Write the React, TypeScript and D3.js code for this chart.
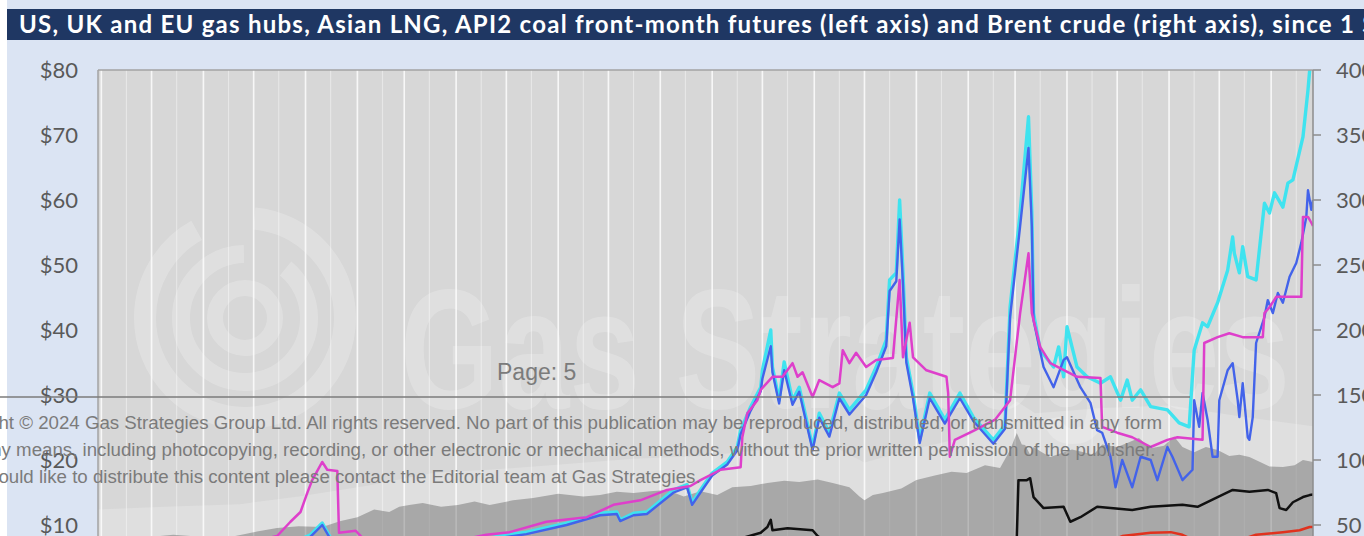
import * as d3 from "d3";

const W = 1364;
const H = 536;
const PLOT = { left: 98, right: 1313, top: 70, zero: 590 };
const START = new Date(2020, 7, 30);
const DAYS = 726;

const TITLE =
  "US, UK and EU gas hubs, Asian LNG, API2 coal front-month futures (left axis) and Brent crude (right axis), since 1 September 2020";
const LEFT_TICKS = [10, 20, 30, 40, 50, 60, 70, 80];
const RIGHT_TICKS = [50, 100, 150, 200, 250, 300, 350, 400];

const COPYRIGHT = [
  "Copyright © 2024 Gas Strategies Group Ltd. All rights reserved. No part of this publication may be reproduced, distributed, or transmitted in any form",
  "or by any means, including photocopying, recording, or other electronic or mechanical methods, without the prior written permission of the publisher.",
  "If you would like to distribute this content please contact the Editorial team at Gas Strategies.",
];

// [days since 30 Aug 2020, $/MMBtu]
const TTF: [number, number][] = [
  [0, 4.3], [19, 4.6], [37, 5.2], [61, 5.6], [85, 5.3], [109, 6.4], [127, 8.5], [134, 10.3], [139, 8.0],
  [148, 6.8], [168, 6.2], [192, 6.4], [216, 7.0], [240, 8.3], [256, 8.9], [280, 10.3], [300, 11.8],
  [310, 12.0], [312, 10.8], [320, 11.8], [328, 12.0], [344, 15.4], [352, 16.2], [355, 13.4], [360, 15.4],
  [367, 18.0], [376, 19.7], [382, 22.0], [384, 24.6], [390, 28.2], [396, 31.2], [397, 33.8], [402, 40.0],
  [403, 34.3], [407, 29.2], [410, 35.1], [415, 29.2], [419, 31.2], [427, 22.0], [431, 27.2], [437, 24.2],
  [443, 30.3], [449, 27.7], [459, 30.8], [465, 34.3], [471, 38.5], [473, 47.7], [477, 48.8], [479, 60.0],
  [481, 48.8], [483, 35.8], [487, 30.3], [491, 23.1], [497, 30.3], [506, 26.2], [515, 30.3], [523, 26.6],
  [535, 23.1], [542, 25.4], [545, 43.5], [551, 58.0], [556, 72.8], [558, 58.0], [559, 42.6], [563, 36.9],
  [571, 34.3], [574, 37.4], [577, 32.8], [579, 40.5], [585, 34.3], [591, 32.8], [599, 31.8], [605, 32.8],
  [611, 29.2], [615, 32.3], [618, 29.2], [623, 30.8], [629, 28.2], [639, 27.7], [646, 25.7], [652, 25.1],
  [655, 36.9], [660, 41.1], [663, 40.5], [669, 44.2], [675, 49.2], [678, 54.3], [679, 51.8], [682, 48.8],
  [684, 52.8], [687, 48.2], [692, 47.7], [697, 59.5], [700, 58.0], [703, 61.1], [708, 58.9], [711, 62.6],
  [714, 63.1], [720, 69.7], [723, 76.9], [726, 86.0],
];

const NBP: [number, number][] = [
  [0, 4.1], [19, 4.4], [37, 5.0], [61, 5.4], [85, 5.1], [109, 6.2], [127, 8.2], [134, 10.0], [139, 7.8],
  [148, 6.6], [168, 6.0], [192, 6.2], [216, 6.8], [240, 8.0], [256, 8.6], [280, 10.0], [300, 11.5],
  [310, 11.7], [312, 10.6], [320, 11.5], [328, 11.7], [344, 15.0], [352, 15.8], [355, 13.1], [360, 15.0],
  [367, 17.6], [376, 19.3], [382, 21.5], [384, 24.0], [390, 27.6], [396, 30.6], [397, 32.5], [402, 37.5],
  [403, 33.5], [407, 28.7], [410, 33.8], [415, 28.5], [419, 30.5], [427, 21.5], [431, 26.5], [437, 23.6],
  [443, 29.5], [449, 27.0], [459, 30.0], [465, 33.5], [471, 37.5], [473, 46.0], [477, 47.5], [479, 57.0],
  [481, 47.0], [483, 35.0], [487, 29.5], [491, 22.6], [497, 29.5], [506, 25.6], [515, 29.5], [523, 26.0],
  [535, 22.5], [542, 24.8], [545, 42.0], [551, 56.0], [556, 68.0], [558, 56.0], [559, 41.5], [565, 34.3],
  [571, 31.2], [577, 35.4], [579, 35.8], [587, 31.2], [593, 28.8], [597, 24.6], [600, 24.2], [605, 20.5],
  [608, 15.8], [612, 20.0], [618, 15.8], [623, 20.5], [629, 20.0], [633, 16.9], [639, 22.0], [642, 20.5],
  [648, 16.9], [654, 18.5], [655, 29.2], [658, 25.1], [660, 30.3], [663, 26.2], [666, 20.5], [669, 20.5],
  [670, 29.2], [675, 33.8], [678, 34.9], [681, 29.2], [682, 26.6], [684, 31.8], [687, 23.5], [688, 23.1],
  [690, 26.6], [692, 38.0], [697, 42.0], [699, 44.6], [702, 42.6], [705, 45.7], [708, 44.2], [712, 48.2],
  [716, 50.3], [719, 53.4], [722, 57.4], [723, 61.5], [725, 58.5], [726, 60.0],
];

const JKM: [number, number][] = [
  [0, 3.9], [20, 4.6], [40, 5.6], [60, 6.6], [80, 7.4], [100, 7.9], [107, 8.3], [115, 10.5], [121, 12.0],
  [125, 14.9], [128, 16.9], [134, 19.7], [137, 18.5], [143, 18.3], [144, 8.8], [154, 9.1], [160, 7.5],
  [180, 6.5], [200, 6.8], [215, 7.6], [232, 8.5], [246, 8.9], [268, 10.5], [292, 11.2], [308, 13.1],
  [324, 13.8], [340, 15.4], [354, 16.0], [360, 16.9], [372, 18.5], [384, 18.9], [385, 23.5], [388, 27.2],
  [394, 29.2], [396, 30.8], [403, 32.8], [409, 32.8], [415, 34.9], [418, 32.8], [421, 33.5], [427, 29.7],
  [431, 32.3], [439, 31.2], [443, 31.8], [445, 36.9], [449, 34.9], [453, 36.5], [459, 34.3], [465, 35.4],
  [475, 35.7], [479, 47.7], [481, 35.8], [485, 41.1], [487, 35.8], [495, 33.8], [507, 32.8], [508, 30.3],
  [509, 20.5], [512, 23.1], [524, 24.6], [536, 26.2], [545, 29.2], [551, 42.6], [556, 51.8], [558, 42.6],
  [563, 37.4], [569, 34.9], [585, 32.8], [599, 32.6], [600, 25.1], [609, 24.2], [618, 23.5], [629, 22.0],
  [639, 23.1], [645, 23.5], [660, 23.1], [661, 38.0], [669, 38.9], [676, 39.5], [684, 38.9], [696, 38.9],
  [697, 42.6], [700, 43.5], [704, 45.1], [719, 45.1], [720, 57.4], [723, 57.4], [725, 56.5], [726, 56.0],
];

const API2: [number, number][] = [
  [0, 2.1], [60, 2.4], [120, 2.8], [180, 2.8], [240, 3.6], [300, 4.8], [340, 5.5], [370, 7.0], [385, 8.0],
  [396, 8.8], [400, 9.7], [402, 10.8], [403, 9.2], [412, 9.5], [427, 9.2], [430, 8.3], [440, 6.5],
  [470, 5.6], [500, 5.4], [520, 6.0], [540, 7.2], [549, 8.0], [550, 16.9], [555, 16.9], [557, 17.2],
  [559, 14.3], [565, 12.6], [577, 12.8], [581, 10.5], [587, 11.2], [597, 12.8], [618, 12.3], [629, 12.8],
  [648, 13.1], [657, 12.8], [669, 14.3], [678, 15.4], [688, 15.1], [699, 15.4], [704, 14.9], [706, 12.6],
  [710, 12.3], [714, 13.5], [720, 14.3], [724, 14.6], [726, 14.7],
];

const HH: [number, number][] = [
  [0, 2.5], [60, 3.0], [120, 2.7], [180, 2.6], [240, 3.0], [300, 3.7], [360, 5.0], [400, 5.7], [450, 5.0],
  [480, 4.0], [520, 4.5], [560, 4.8], [590, 6.0], [605, 7.5], [612, 8.3], [629, 8.8], [641, 8.9], [648, 8.5],
  [660, 7.0], [680, 7.5], [692, 8.5], [708, 8.9], [718, 9.2], [724, 9.7], [726, 9.7],
];

// right axis, $/bbl
const BRENT: [number, number][] = [
  [0, 40], [10, 39.5], [20, 41], [31, 40.8], [45, 42.5], [61, 41], [70, 38.5], [85, 42.3], [95, 45],
  [107, 47.7], [120, 49], [134, 48.5], [145, 53], [155, 56], [165, 62], [174, 60], [180, 64], [186, 65.4],
  [194, 67], [205, 64], [215, 65.4], [225, 68], [234, 65.4], [248, 69], [260, 70.8], [275, 74], [290, 72],
  [300, 73], [310, 75.5], [320, 74.6], [330, 76], [340, 77], [350, 72], [360, 76], [370, 73], [379, 79],
  [390, 80], [400, 82.3], [410, 84], [419, 83], [430, 85], [439, 82.3], [449, 79], [455, 72], [458, 69],
  [463, 73], [469, 74.6], [480, 78], [489, 84.6], [500, 88], [510, 91], [519, 90], [530, 96], [539, 93.8],
  [545, 107.7], [549, 120.8], [552, 112], [554, 111.5], [557, 104], [559, 110], [564, 106], [569, 102.3],
  [575, 105], [582, 108], [589, 106], [595, 104], [600, 112], [609, 110], [615, 113], [622, 117], [629, 109],
  [637, 111], [643, 118], [648, 110], [655, 106], [662, 110], [669, 107.7], [676, 103], [682, 104],
  [688, 102.3], [695, 98], [700, 95], [708, 94.6], [715, 96], [720, 100], [726, 98.5],
];

// lighter band drawn above the Brent area, right axis
const BAND: [number, number][] = [
  [0, 62], [40, 64], [85, 66], [120, 72], [160, 80], [200, 90], [240, 93], [280, 97], [320, 101],
  [360, 103], [400, 108], [440, 110], [458, 98], [480, 106], [520, 118], [549, 145], [560, 136],
  [600, 140], [640, 142], [680, 134], [726, 126],
];

const SERIES = [
  { name: "TTF", data: TTF, color: "#3fe3ef", width: 3.4 },
  { name: "NBP", data: NBP, color: "#4363ea", width: 2.4 },
  { name: "JKM", data: JKM, color: "#de3fcb", width: 2.5 },
  { name: "API2", data: API2, color: "#111111", width: 2.5 },
  { name: "HH", data: HH, color: "#e0321e", width: 2.5 },
];

const dayToDate = (d: number) => new Date(START.getTime() + d * 864e5);

export default function App() {
  const end = dayToDate(DAYS);
  const x = d3.scaleTime().domain([START, end]).range([PLOT.left, PLOT.right]);
  const yL = d3.scaleLinear().domain([0, 80]).range([PLOT.zero, PLOT.top]);
  const yR = d3.scaleLinear().domain([0, 400]).range([PLOT.zero, PLOT.top]);

  const lineGen = d3
    .line<[number, number]>()
    .x((d) => x(dayToDate(d[0])))
    .y((d) => yL(d[1]));
  const areaGen = d3
    .area<[number, number]>()
    .x((d) => x(dayToDate(d[0])))
    .y0(PLOT.zero)
    .y1((d) => yR(d[1]));

  const months = d3.timeMonth.range(d3.timeMonth.ceil(START), end);
  const mids = months.map((m) => new Date(m.getFullYear(), m.getMonth(), 16)).filter((d) => d < end);
  const labelFont = "Lato, 'Open Sans', sans-serif";

  const grid = (op1: number, op2: number, k: string) => (
    <g key={k}>
      {mids.map((d, i) => (
        <line key={`m${i}`} x1={x(d)} x2={x(d)} y1={PLOT.top} y2={PLOT.zero} stroke="#fff" strokeOpacity={op1} strokeWidth={1.2} />
      ))}
      {months.map((d, i) => (
        <line key={`M${i}`} x1={x(d)} x2={x(d)} y1={PLOT.top} y2={PLOT.zero} stroke="#fff" strokeOpacity={op2} strokeWidth={1.6} />
      ))}
    </g>
  );

  return (
    <div style={{ position: "absolute", left: 0, top: 0, width: W, height: H, overflow: "hidden", background: "#fff" }}>
      <svg width={W} height={H} style={{ display: "block" }}>
        <defs>
          <clipPath id="plotClip">
            <rect x={PLOT.left} y={PLOT.top} width={PLOT.right - PLOT.left} height={PLOT.zero - PLOT.top} />
          </clipPath>
        </defs>
        <rect x={7} y={0} width={W - 7} height={H} fill="#dbe4f3" />
        <rect x={7} y={9} width={W - 7} height={31} fill="#1f3763" />
        <text x={19} y={33} fill="#fff" fontFamily={labelFont} fontWeight={700} fontSize={24} letterSpacing={1.25}>
          {TITLE}
        </text>

        {/* plot background */}
        <rect x={PLOT.left} y={PLOT.top} width={PLOT.right - PLOT.left} height={PLOT.zero - PLOT.top} fill="#d7d7d7" />

        <g clipPath="url(#plotClip)">
          <path d={areaGen(BAND) ?? ""} fill="#dfdfdf" />
          {grid(0.35, 0.75, "g1")}
          <path d={areaGen(BRENT) ?? ""} fill="#a8a8a8" />
          {grid(0.08, 0.2, "g2")}
        </g>

        {/* watermark */}
        <g fill="none" stroke="#fff" strokeOpacity={0.22}>
          <circle cx={245} cy={318} r={100} strokeWidth={22} strokeDasharray="420 60" />
          <circle cx={245} cy={318} r={64} strokeWidth={18} strokeDasharray="300 45" />
          <circle cx={245} cy={318} r={30} strokeWidth={16} />
        </g>
        <text
          x={400}
          y={408}
          fill="#fff"
          fillOpacity={0.22}
          fontFamily="'Liberation Sans', Arial, sans-serif"
          fontWeight={700}
          fontSize={170}
          textLength={890}
          lengthAdjust="spacingAndGlyphs"
        >
          Gas Strategies
        </text>

        <g clipPath="url(#plotClip)" fill="none" strokeLinejoin="round">
          {SERIES.map((s) => (
            <path key={s.name} d={lineGen(s.data) ?? ""} stroke={s.color} strokeWidth={s.width} />
          ))}
        </g>

        {/* frame */}
        <line x1={PLOT.left} x2={PLOT.right} y1={PLOT.top} y2={PLOT.top} stroke="#a3a3a3" strokeWidth={1.5} />
        <line x1={PLOT.left} x2={PLOT.left} y1={PLOT.top} y2={PLOT.zero} stroke="#a3a3a3" strokeWidth={1.5} />
        <line x1={PLOT.right} x2={PLOT.right} y1={PLOT.top} y2={PLOT.zero} stroke="#8c8c8c" strokeWidth={1.5} />

        {LEFT_TICKS.map((t) => (
          <text key={`l${t}`} x={78} y={yL(t)} dy="0.35em" textAnchor="end" fill="#595959" fontFamily={labelFont} fontSize={22}>
            {`$${t}`}
          </text>
        ))}
        {RIGHT_TICKS.map((t) => (
          <g key={`r${t}`}>
            <line x1={PLOT.right} x2={PLOT.right + 8} y1={yR(t)} y2={yR(t)} stroke="#8c8c8c" strokeWidth={1.5} />
            <text x={1336} y={yR(t)} dy="0.35em" fill="#595959" fontFamily={labelFont} fontSize={22}>
              {t}
            </text>
          </g>
        ))}

        {/* page overlay */}
        <g fontFamily="'Liberation Sans', Arial, sans-serif" fill="#7b7b7b">
          <text x={497} y={380} fontSize={23}>Page: 5</text>
          <line x1={0} x2={1190} y1={397} y2={397} stroke="#7b7b7b" strokeWidth={1.5} />
          {COPYRIGHT.map((c, i) => (
            <text key={i} x={-66} y={429 + i * 27} fontSize={18.7}>
              {c}
            </text>
          ))}
        </g>
      </svg>
    </div>
  );
}
